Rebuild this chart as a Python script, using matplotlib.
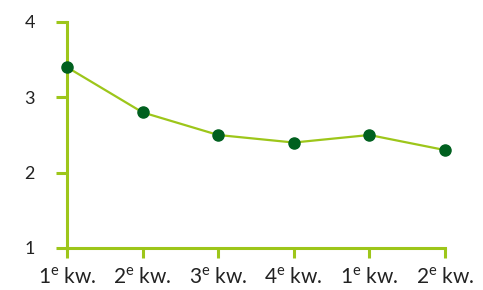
import matplotlib
matplotlib.use("Agg")
import matplotlib.pyplot as plt

quarters = ["1$^{\\mathrm{e}}$ kw.", "2$^{\\mathrm{e}}$ kw.", "3$^{\\mathrm{e}}$ kw.",
            "4$^{\\mathrm{e}}$ kw.", "1$^{\\mathrm{e}}$ kw.", "2$^{\\mathrm{e}}$ kw."]
values = [3.4, 2.8, 2.5, 2.4, 2.5, 2.3]
yticks = [1, 2, 3, 4]

axis_col = "#9dc61a"
dot_col = "#00601f"

plt.rcParams['font.family'] = ['Lato', 'DejaVu Sans']
plt.rcParams['mathtext.fontset'] = 'custom'
plt.rcParams['mathtext.rm'] = 'Lato'

fig = plt.figure(figsize=(4.83, 2.90), dpi=100)
ax = fig.add_axes([67 / 483, 42 / 290, (445 - 67) / 483, (248 - 22) / 290])

x = list(range(len(values)))
ax.plot(x, values, color=axis_col, lw=1.6, zorder=3, clip_on=False)
ax.plot(x, values, 'o', color=dot_col, ms=8, zorder=4, clip_on=False)

ax.set_xlim(0, len(values) - 1)
ax.set_ylim(1, 4)
ax.set_xticks(x)
ax.set_xticklabels(quarters)
ax.set_yticks(yticks)

for s in ["top", "right"]:
    ax.spines[s].set_visible(False)
for s in ["left", "bottom"]:
    ax.spines[s].set_color(axis_col)
    ax.spines[s].set_linewidth(2.2)

ax.tick_params(axis='y', length=8, width=2.2, color=axis_col, pad=15,
               labelsize=13, labelcolor="#222222")
ax.tick_params(axis='x', length=7, width=2.2, color=axis_col, pad=7,
               labelsize=15, labelcolor="#222222")

fig.savefig("out.png", dpi=100)
